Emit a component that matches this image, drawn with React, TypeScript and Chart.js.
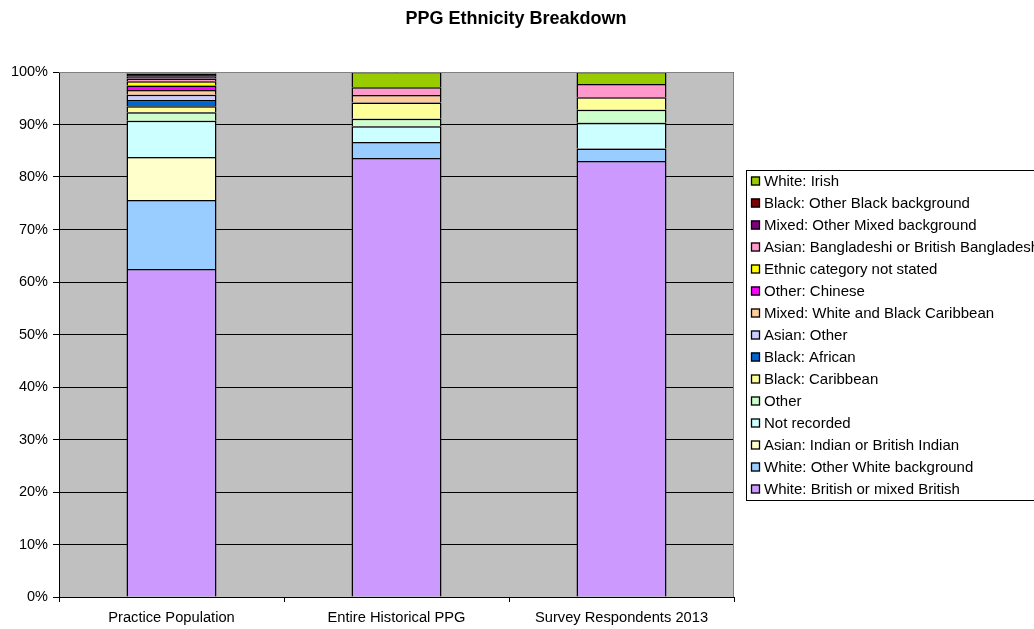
import React, { useEffect, useRef } from "react";
import { Chart, registerables } from "chart.js";

Chart.register(...registerables);

const categories = ["Practice Population", "Entire Historical PPG", "Survey Respondents 2013"];

// Series (bottom of stack first), values in percent
const whiteBritish = [62.5, 83.6, 83.05];
const whiteOther = [13.1, 3.05, 2.4];
const asianIndian = [8.2, 0, 0];
const notRecorded = [6.9, 3.0, 4.9];
const otherEthnic = [1.65, 1.45, 2.45];
const blackCaribbean = [1.15, 3.1, 2.4];
const blackAfrican = [1.15, 0, 0];
const asianOther = [1.0, 0, 0];
const mixedWhiteBlackCaribbean = [0.9, 1.4, 0];
const otherChinese = [0.9, 0, 0];
const notStated = [0.8, 0, 0];
const asianBangladeshi = [0.5, 1.5, 2.5];
const mixedOther = [0.45, 0, 0];
const blackOther = [0.5, 0, 0];
const whiteIrish = [0.4, 2.9, 2.3];

const seriesNames = [
  "White: British or mixed British",
  "White: Other White background",
  "Asian: Indian or British Indian",
  "Not recorded",
  "Other",
  "Black: Caribbean",
  "Black: African",
  "Asian: Other",
  "Mixed: White and Black Caribbean",
  "Other: Chinese",
  "Ethnic category not stated",
  "Asian: Bangladeshi or British Bangladeshi",
  "Mixed: Other Mixed background",
  "Black: Other Black background",
  "White: Irish",
];
const seriesValues = [
  whiteBritish, whiteOther, asianIndian, notRecorded, otherEthnic, blackCaribbean,
  blackAfrican, asianOther, mixedWhiteBlackCaribbean, otherChinese, notStated,
  asianBangladeshi, mixedOther, blackOther, whiteIrish,
];
const seriesColors = [
  "#CC99FF", "#99CCFF", "#FFFFCC", "#CCFFFF", "#CCFFCC", "#FFFF99",
  "#0066CC", "#CCCCFF", "#FFCC99", "#FF00FF", "#FFFF00",
  "#FF99CC", "#800080", "#800000", "#99CC00",
];

const yTicks = [0, 10, 20, 30, 40, 50, 60, 70, 80, 90, 100];
const chartTitle = "PPG Ethnicity Breakdown";

const FONT = "'Liberation Sans', Arial, Helvetica, sans-serif";

const excelLook = {
  id: "excelLook",
  beforeDraw(chart: any) {
    const { ctx, chartArea: a } = chart;
    ctx.save();
    ctx.fillStyle = "#ffffff";
    ctx.fillRect(0, 0, chart.width, chart.height);
    ctx.fillStyle = "#C0C0C0";
    ctx.fillRect(a.left, a.top, a.right - a.left, a.bottom - a.top);
    ctx.restore();
  },
  afterDraw(chart: any) {
    const { ctx, chartArea: a } = chart;
    ctx.save();
    // plot area border (top/right)
    ctx.strokeStyle = "#808080";
    ctx.lineWidth = 1;
    ctx.beginPath();
    ctx.moveTo(a.left, Math.round(a.top) + 0.5);
    ctx.lineTo(Math.round(a.right) - 0.5, Math.round(a.top) + 0.5);
    ctx.lineTo(Math.round(a.right) - 0.5, a.bottom);
    ctx.stroke();

    // title
    ctx.fillStyle = "#000";
    ctx.font = `bold 18px ${FONT}`;
    ctx.textAlign = "center";
    ctx.textBaseline = "middle";
    ctx.fillText(chartTitle, 516, 19);

    // legend
    const boxX = 746.5, boxY = 170.5, boxW = 310, boxH = 330;
    ctx.fillStyle = "#fff";
    ctx.fillRect(boxX, boxY, boxW, boxH);
    ctx.strokeStyle = "#000";
    ctx.strokeRect(boxX, boxY, boxW, boxH);
    ctx.font = `15px ${FONT}`;
    ctx.textAlign = "left";
    const ds = chart.data.datasets;
    for (let i = 0; i < ds.length; i++) {
      const d = ds[ds.length - 1 - i];
      const y = 181 + 22 * i;
      ctx.fillStyle = d.backgroundColor;
      ctx.fillRect(751, y - 4.5, 9, 9);
      ctx.strokeStyle = "#000";
      ctx.lineWidth = 1.3;
      ctx.strokeRect(751.5, y - 4, 8, 8);
      ctx.fillStyle = "#000";
      ctx.fillText(d.label, 764, y + 0.5);
    }
    ctx.restore();
  },
};

export default function App() {
  const ref = useRef<HTMLCanvasElement>(null);
  useEffect(() => {
    if (!ref.current) return;
    const chart = new Chart(ref.current, {
      type: "bar",
      data: {
        labels: categories,
        datasets: seriesNames.map((name, i) => ({
          label: name,
          data: seriesValues[i],
          backgroundColor: seriesColors[i],
          borderColor: "#000",
          borderWidth: 1.5,
          barPercentage: 0.4,
          categoryPercentage: 1,
        })),
      },
      options: {
        responsive: false,
        animation: false,
        layout: { padding: { top: 72, right: 300, left: 0, bottom: 0 } },
        plugins: {
          legend: { display: false },
          title: { display: false },
          tooltip: { enabled: false },
        },
        scales: {
          x: {
            stacked: true,
            offset: true,
            grid: {
              offset: true,
              drawOnChartArea: false,
              drawTicks: true,
              tickLength: 5,
              color: "#000",
            },
            border: { display: true, color: "#000" },
            ticks: {
              color: "#000",
              font: { family: FONT, size: 14.7 },
              padding: 7,
              maxRotation: 0,
            },
            afterFit: (s: any) => {
              s.height = 32;
            },
          },
          y: {
            stacked: true,
            min: 0,
            max: 100,
            afterBuildTicks: (s: any) => {
              s.ticks = yTicks.map((v) => ({ value: v }));
            },
            grid: { color: "#000", tickLength: 6, drawTicks: true },
            border: { display: true, color: "#000" },
            ticks: {
              color: "#000",
              font: { family: FONT, size: 14.5 },
              padding: 5,
              callback: (v: any) => `${v}%`,
            },
            afterFit: (s: any) => {
              s.width = 59;
            },
          },
        },
      },
      plugins: [excelLook],
    });
    return () => chart.destroy();
  }, []);
  return (
    <div style={{ position: "absolute", left: 0, top: 0, width: 1034, height: 629 }}>
      <canvas ref={ref} width={1034} height={629} style={{ display: "block" }} />
    </div>
  );
}
